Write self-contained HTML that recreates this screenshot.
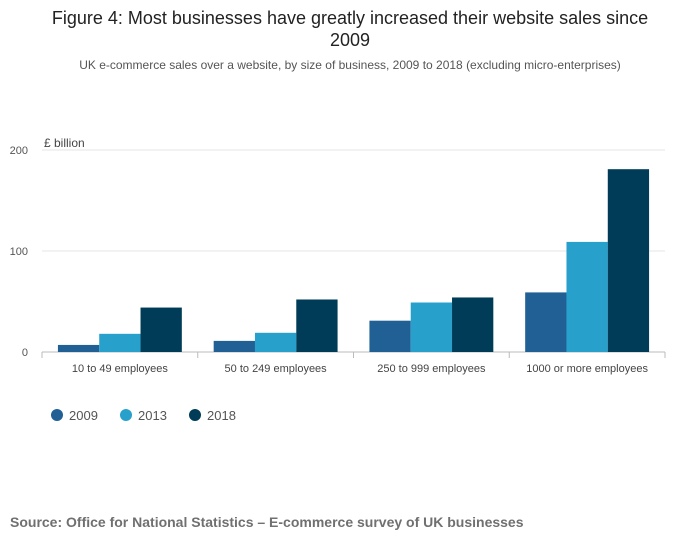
<!DOCTYPE html>
<html><head><meta charset="utf-8"><style>
body{margin:0;background:#fff;font-family:"Liberation Sans",sans-serif;}
#wrap{position:relative;width:700px;height:549px;overflow:hidden;}
</style></head><body>
<div id="wrap">
<svg id="chart" width="700" height="549">
<text x="350" y="24" text-anchor="middle" font-size="18" fill="#222">Figure 4: Most businesses have greatly increased their website sales since</text>
<text x="350" y="46" text-anchor="middle" font-size="18" fill="#222">2009</text>
<text x="350" y="69" text-anchor="middle" font-size="12" fill="#555">UK e-commerce sales over a website, by size of business, 2009 to 2018 (excluding micro-enterprises)</text>
<text x="44" y="147" font-size="12" fill="#444">£ billion</text>
<g id="grid"></g><g id="bars"></g><g id="xlabels"></g>
<g id="legend"></g>
<text x="10" y="527" font-size="14" font-weight="bold" fill="#707070">Source: Office for National Statistics – E-commerce survey of UK businesses</text>
</svg>
</div>
<script>
const categories=["10 to 49 employees","50 to 249 employees","250 to 999 employees","1000 or more employees"];
const seriesNames=["2009","2013","2018"];
const s2009=[7,11,31,59];
const s2013=[18,19,49,109];
const s2018=[44,52,54,181];
const yTicks=[0,100,200];
const colors=["#206095","#27a0cc","#003c57"];
const NS="http://www.w3.org/2000/svg";
const x0=42,x1=665,y0=352,yTop=150,yMax=200;
const y=v=>y0-(v/yMax)*(y0-yTop);
const gw=(x1-x0)/categories.length;
function mk(t,a,p){const e=document.createElementNS(NS,t);for(const k in a)e.setAttribute(k,a[k]);p.appendChild(e);return e;}
const grid=document.getElementById('grid');
yTicks.forEach(t=>{
 const l=mk('line',{x1:x0,x2:x1,y1:y(t),y2:y(t),stroke:t===0?'#bbb':'#e5e5e5'},grid);
 
 
 const tx=mk('text',{x:28,y:y(t)+4,'text-anchor':'end','font-size':11,fill:'#555'},grid);
 tx.textContent=t;
 
 
});
const bars=document.getElementById('bars'),xl=document.getElementById('xlabels');
const series=[s2009,s2013,s2018];
const bw=41.3,pad=(gw-3*bw)/2;
categories.forEach((c,i)=>{
 const gx=x0+i*gw;
 series.forEach((s,j)=>{
  const r=mk('rect',{x:gx+pad+j*bw,y:y(s[i]),width:bw,height:y0-y(s[i]),fill:colors[j]},bars);
  
  
 });
 const tk=mk('line',{x1:gx+gw,x2:gx+gw,y1:y0,y2:y0+6,stroke:'#bbb'},xl);
 
 
 const t=mk('text',{x:gx+gw/2,y:372,'text-anchor':'middle','font-size':11,fill:'#444'},xl);
 t.textContent=c;
 
 
});
const t0=mk('line',{x1:x0,x2:x0,y1:y0,y2:y0+6,stroke:'#bbb'},xl);


const lg=document.getElementById('legend');
const lx=[57,126,195];
seriesNames.forEach((n,j)=>{
 const g=mk('g',{},lg);
 
 
 mk('circle',{cx:lx[j],cy:415,r:6,fill:colors[j]},g);
 const t=mk('text',{x:lx[j]+12,y:420,'font-size':13,fill:'#555'},g);
 t.textContent=n;
});
</script>
</body></html>
